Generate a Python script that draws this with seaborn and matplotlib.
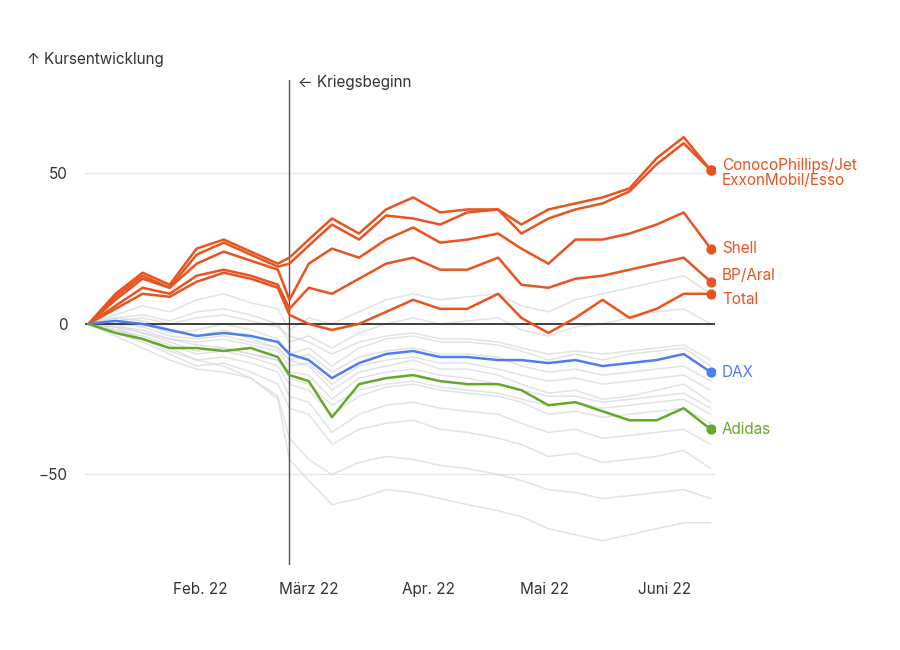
import matplotlib
matplotlib.use("Agg")
import matplotlib.pyplot as plt
import seaborn as sns
import pandas as pd

dates = pd.to_datetime([
    "2022-01-03", "2022-01-10", "2022-01-17", "2022-01-24", "2022-01-31",
    "2022-02-07", "2022-02-14", "2022-02-21", "2022-02-24", "2022-03-01",
    "2022-03-07", "2022-03-14", "2022-03-21", "2022-03-28", "2022-04-04",
    "2022-04-11", "2022-04-19", "2022-04-25", "2022-05-02", "2022-05-09",
    "2022-05-16", "2022-05-23", "2022-05-30", "2022-06-06", "2022-06-13"])

conoco = [0, 10, 17, 13, 25, 28, 24, 20, 22, 28, 35, 30, 38, 42, 37, 38, 38, 33, 38, 40, 42, 45, 55, 62, 51]
exxon = [0, 9, 16, 12, 23, 27, 23, 19, 20, 26, 33, 28, 36, 35, 33, 37, 38, 30, 35, 38, 40, 44, 53, 60, 51]
shell = [0, 8, 15, 12, 20, 24, 21, 18, 8, 20, 25, 22, 28, 32, 27, 28, 30, 25, 20, 28, 28, 30, 33, 37, 25]
bp = [0, 6, 12, 10, 16, 18, 16, 13, 5, 12, 10, 15, 20, 22, 18, 18, 22, 13, 12, 15, 16, 18, 20, 22, 14]
total = [0, 5, 10, 9, 14, 17, 15, 12, 3, 0, -2, 0, 4, 8, 5, 5, 10, 2, -3, 2, 8, 2, 5, 10, 10]
dax = [0, 1, 0, -2, -4, -3, -4, -6, -10, -12, -18, -13, -10, -9, -11, -11, -12, -12, -13, -12, -14, -13, -12, -10, -16]
adidas = [0, -3, -5, -8, -8, -9, -8, -11, -17, -19, -31, -20, -18, -17, -19, -20, -20, -22, -27, -26, -29, -32, -32, -28, -35]

grey = [
    [0, 3, 6, 4, 8, 10, 7, 5, -2, 2, 0, 4, 8, 10, 8, 9, 10, 6, 4, 8, 10, 12, 14, 16, 10],
    [0, 2, 3, 1, 4, 5, 3, 0, -6, -4, -8, -3, 0, 2, 0, 1, 2, -2, -4, -1, 0, 2, 4, 5, 0],
    [0, 1, 0, -3, -2, 0, -2, -5, -10, -8, -14, -8, -5, -4, -6, -6, -7, -9, -12, -10, -12, -10, -9, -8, -14],
    [0, -1, -2, -5, -6, -5, -7, -9, -14, -13, -20, -14, -12, -11, -13, -13, -15, -17, -19, -18, -20, -19, -18, -17, -22],
    [0, 0, -3, -6, -9, -8, -10, -12, -16, -17, -25, -18, -16, -15, -17, -18, -20, -22, -24, -24, -26, -25, -24, -23, -28],
    [0, -2, -4, -7, -10, -9, -11, -14, -20, -22, -30, -24, -21, -20, -22, -23, -24, -26, -30, -29, -31, -30, -29, -28, -33],
    [0, -1, -5, -9, -12, -11, -13, -16, -24, -26, -36, -30, -27, -26, -28, -29, -30, -33, -36, -35, -38, -37, -36, -35, -40],
    [0, 2, 1, -2, -4, -2, -5, -8, -12, -14, -22, -16, -14, -12, -15, -15, -17, -20, -23, -22, -25, -24, -22, -20, -26],
    [0, -3, -6, -10, -14, -13, -16, -20, -28, -30, -40, -35, -33, -32, -35, -36, -38, -40, -44, -43, -46, -45, -44, -42, -48],
    [0, -2, -5, -8, -12, -14, -18, -25, -45, -52, -60, -58, -55, -56, -58, -60, -62, -64, -68, -70, -72, -70, -68, -66, -66],
    [0, -4, -8, -12, -15, -16, -18, -24, -38, -45, -50, -46, -44, -45, -47, -48, -50, -52, -55, -56, -58, -57, -56, -55, -58],
    [0, 1, 2, 0, 2, 3, 1, -1, -4, -6, -10, -6, -4, -3, -5, -5, -6, -8, -10, -9, -10, -9, -8, -7, -12],
    [0, 0, -1, -4, -5, -4, -6, -8, -12, -10, -16, -11, -9, -8, -10, -10, -11, -14, -16, -15, -17, -16, -15, -14, -19],
    [0, -1, -3, -5, -7, -8, -10, -12, -18, -20, -27, -22, -20, -19, -21, -22, -23, -25, -27, -26, -28, -27, -26, -25, -30],
]

red = "#e8531f"
highlight = [
    ("ConocoPhillips/Jet\nExxonMobil/Esso", conoco, red, 4),
    ("", exxon, red, None),
    ("Shell", shell, red, 0),
    ("BP/Aral", bp, red, 2),
    ("Total", total, red, -2),
    ("DAX", dax, "#4f7df0", 0),
    ("Adidas", adidas, "#64a82a", 0),
]

sns.set_style("white")
plt.rcParams["font.family"] = ["Inter", "DejaVu Sans"]

fig = plt.figure(figsize=(9, 6.5), dpi=100)
ax = fig.add_axes([0.094, 0.131, 0.70, 0.746])

for g in grey:
    sns.lineplot(x=dates, y=g, ax=ax, color="#d5d7da", lw=1.1, alpha=0.7)

ax.axhline(0, color="#222222", lw=1.2, zorder=3)

for name, vals, col, _ in highlight:
    sns.lineplot(x=dates, y=vals, ax=ax, color=col, lw=1.8, zorder=4)
    ax.scatter(dates[-1], vals[-1], color=col, s=40, zorder=5)

for name, vals, col, dy in highlight:
    if dy is None:
        continue
    ax.annotate(name, (dates[-1], vals[-1] + dy), xytext=(8, 0), textcoords="offset points",
                va="top" if "\n" in name else "center", color=col, fontsize=11,
                annotation_clip=False, linespacing=1.0)

war = pd.Timestamp("2022-02-24")
ax.axvline(war, color="#555555", lw=1)
ax.annotate("← Kriegsbeginn", (war, 80), xytext=(6, 0), textcoords="offset points",
            fontsize=11, color="#333333", va="center", annotation_clip=False)
fig.text(0.03, 0.902, "↑ Kursentwicklung", fontsize=11, color="#333333")

ax.set_ylim(-80, 81)
ax.set_xlim(pd.Timestamp("2022-01-02"), pd.Timestamp("2022-06-14"))
ax.set_yticks([-50, 0, 50])
ax.set_yticklabels(["−50", "0", "50"], fontsize=11, color="#333333")
ax.yaxis.grid(True, color="#e6e6e6", lw=1)
ax.set_xticks(pd.to_datetime(["2022-02-01", "2022-03-01", "2022-04-01", "2022-05-01", "2022-06-01"]))
ax.set_xticklabels(["Feb. 22", "März 22", "Apr. 22", "Mai 22", "Juni 22"], fontsize=11, color="#333333")
ax.tick_params(axis="y", length=8, color="#333333", direction="out", pad=4)
ax.tick_params(axis="x", length=6, color="#333333", direction="out", pad=6)
for s in ax.spines.values():
    s.set_visible(False)
ax.set_xlabel("")
ax.set_ylabel("")

fig.savefig("out.png", dpi=100)
